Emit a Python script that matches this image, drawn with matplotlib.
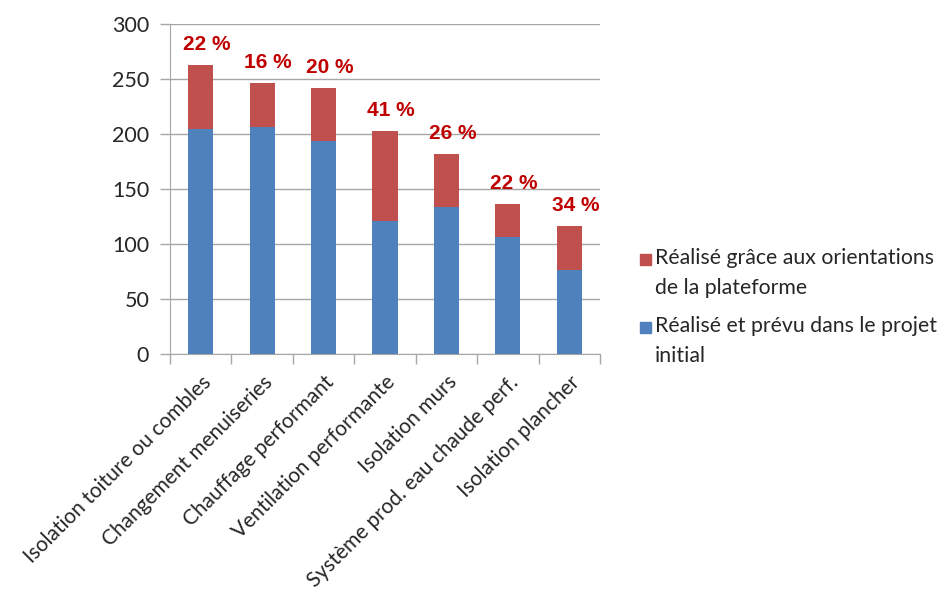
import numpy as np
import matplotlib.pyplot as plt
from matplotlib.patches import Rectangle

plt.rcParams["font.family"] = ["Lato", "DejaVu Sans"]

categories = [
    "Isolation toiture ou combles",
    "Changement menuiseries",
    "Chauffage performant",
    "Ventilation performante",
    "Isolation murs",
    "Système prod. eau chaude perf.",
    "Isolation plancher",
]
initial = [205, 206, 194, 121, 134, 106, 76]
platform = [58, 40, 48, 82, 48, 30, 40]
shares = ["22 %", "16 %", "20 %", "41 %", "26 %", "22 %", "34 %"]
series_labels = [
    "Réalisé grâce aux orientations\nde la plateforme",
    "Réalisé et prévu dans le projet\ninitial",
]
blue = "#4F81BD"
red = "#C0504D"

fig = plt.figure(figsize=(9.4, 5.91), dpi=100)
ax = fig.add_axes([170 / 940, 1 - 354 / 591, 430 / 940, 330 / 591])

x = np.arange(len(categories))
ax.bar(x, initial, width=0.41, color=blue, zorder=3)
ax.bar(x, platform, width=0.41, bottom=initial, color=red, zorder=3)

for xi, b, t, s in zip(x, initial, platform, shares):
    ax.text(xi + 0.1, b + t + 10, s, ha="center", va="bottom",
            fontsize=15, fontweight="bold", color="#C00000",
            family="Liberation Sans", zorder=4)

ax.set_xlim(-0.5, len(categories) - 0.5)
ax.set_ylim(0, 300)
ax.set_yticks(range(0, 301, 50))
ax.grid(axis="y", color="#A6A6A6", linewidth=1, zorder=0)

ax.set_xticks(x)
ax.set_xticklabels(categories, rotation=45, ha="right",
                   rotation_mode="anchor", fontsize=15, color="#262626")
ax.set_xticks(np.arange(-0.5, len(categories)), minor=True)
ax.tick_params(axis="x", which="major", length=0, pad=13)
ax.tick_params(axis="x", which="minor", length=7, color="#A6A6A6", width=1)
ax.tick_params(axis="y", length=7, color="#A6A6A6", width=1, pad=8,
               labelsize=15.5, labelcolor="#262626")

for side in ["top", "right"]:
    ax.spines[side].set_visible(False)
ax.spines["left"].set_color("#A6A6A6")
ax.spines["bottom"].set_color("#A6A6A6")

# legend drawn by hand so each swatch sits beside the first text line
for i, (label, color) in enumerate(zip(series_labels, [red, blue])):
    ytop = 1 - (248 + i * 68) / 591
    fig.patches.append(Rectangle((640 / 940, ytop - 17 / 591), 11 / 940, 11 / 591,
                                 transform=fig.transFigure, color=color))
    fig.text(655 / 940, ytop, label, ha="left", va="top", fontsize=15.3,
             color="#262626", linespacing=1.6)

fig.savefig("out.png", dpi=100)
